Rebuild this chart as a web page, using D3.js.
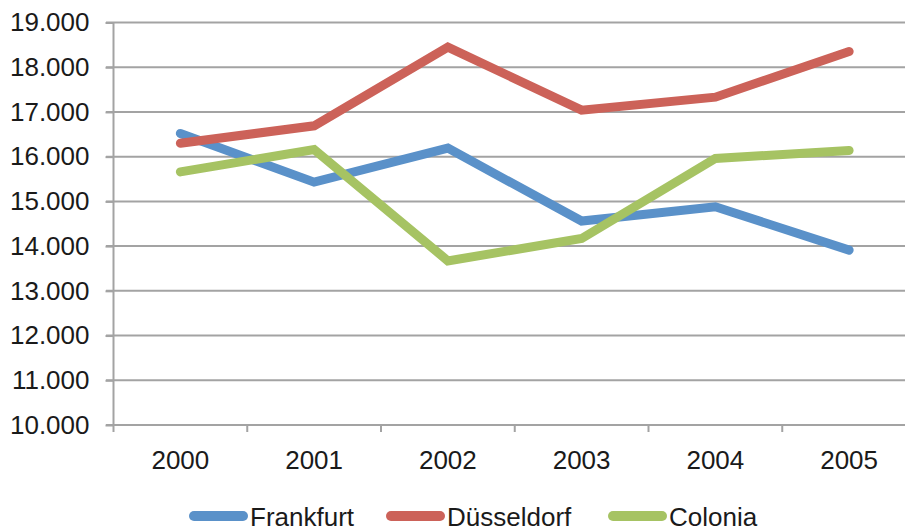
<!DOCTYPE html>
<html><head><meta charset="utf-8">
<script src="https://cdn.jsdelivr.net/npm/d3@7"></script>
<style>body{margin:0;background:#fff}svg{display:block}</style>
</head><body>
<svg id="c" width="905" height="531"></svg>
<script>
const years = ["2000","2001","2002","2003","2004","2005"];
const frankfurt = [16520, 15430, 16190, 14560, 14880, 13910];
const dusseldorf = [16300, 16690, 18450, 17040, 17330, 18350];
const colonia = [15660, 16160, 13670, 14170, 15960, 16140];
const seriesNames = ["Frankfurt","Düsseldorf","Colonia"];
const colors = ["#5a91c9","#cc6259","#a6c363"];
const yTicks = [10000,11000,12000,13000,14000,15000,16000,17000,18000,19000];

const svg = d3.select("#c");
const font = "'Liberation Sans', Arial, sans-serif";
const x = d3.scaleBand().domain(years).range([113.5, 916]);
const y = d3.scaleLinear().domain([10000,19000]).range([425, 22.5]);
const grid = "#a3a3a3";

// gridlines
svg.append("g").selectAll("line").data(yTicks).join("line")
  .attr("x1",106).attr("x2",905).attr("y1",d=>y(d)).attr("y2",d=>y(d))
  .attr("stroke",grid).attr("stroke-width",2);

// y axis
const yAxis = svg.append("g").attr("transform","translate(113.5,0)")
  .call(d3.axisLeft(y).tickValues(yTicks).tickSize(8).tickPadding(10)
    .tickFormat(d=>d3.format(",")(d).replace(/,/g,".")));
yAxis.select(".domain").attr("stroke",grid).attr("stroke-width",2).attr("d","M0,22.5V425");
yAxis.selectAll(".tick line").attr("stroke",grid).attr("stroke-width",2);
yAxis.selectAll("text").attr("font-family",font).attr("font-size",26).attr("fill","#1a1a1a").attr("dx",-6);

// x axis
const xAxis = svg.append("g").attr("transform","translate(0,425)")
  .call(d3.axisBottom(x).tickSize(0).tickPadding(26));
xAxis.select(".domain").remove();
xAxis.selectAll("text").attr("font-family",font).attr("font-size",26).attr("fill","#1a1a1a");
// band boundary ticks
const bounds = years.map(d=>x(d)).concat([x(years[years.length-1])+x.bandwidth()]);
svg.append("g").selectAll("line").data(bounds).join("line")
  .attr("x1",d=>d).attr("x2",d=>d).attr("y1",425).attr("y2",432)
  .attr("stroke",grid).attr("stroke-width",2);

// lines
const data = [frankfurt, dusseldorf, colonia];
const line = d3.line().x((d,i)=>x(years[i])+x.bandwidth()/2).y(d=>y(d));
svg.append("g").selectAll("path").data(data).join("path")
  .attr("d",line).attr("fill","none").attr("stroke",(d,i)=>colors[i])
  .attr("stroke-width",9).attr("stroke-linecap","round").attr("stroke-linejoin","miter");

// legend
const legX = [189, 386, 608];
const leg = svg.append("g").selectAll("g").data(seriesNames).join("g")
  .attr("transform",(d,i)=>`translate(${legX[i]},516)`);
leg.append("line").attr("x1",5).attr("x2",54).attr("y1",0).attr("y2",0)
  .attr("stroke",(d,i)=>colors[i]).attr("stroke-width",10).attr("stroke-linecap","round");
leg.append("text").attr("x",61).attr("y",10).text(d=>d)
  .attr("font-family",font).attr("font-size",26).attr("fill","#1a1a1a");
</script>
</body></html>
